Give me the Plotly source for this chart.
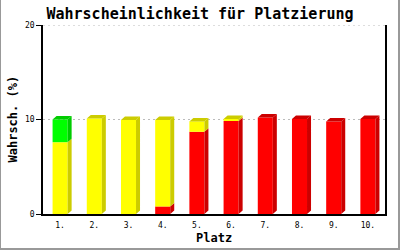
import plotly.graph_objects as go

# ---- data ----
places = ["1.", "2.", "3.", "4.", "5.", "6.", "7.", "8.", "9.", "10."]
red = [0, 0, 0, 0.8, 8.7, 9.85, 10.2, 10.05, 9.8, 10.05]
yellow = [7.6, 10.1, 9.95, 9.15, 1.1, 0.2, 0, 0, 0, 0]
green = [2.4, 0, 0, 0, 0, 0, 0, 0, 0, 0]
y_ticks = [0, 10, 20]

series = [
    ("rot", red, "#FF0000", "#CC0000"),
    ("gelb", yellow, "#FFFF00", "#CCCC00"),
    ("grün", green, "#00FF00", "#00CC00"),
]

xpos = list(range(1, len(places) + 1))
W = 0.44      # bar width (category units)
DX = 0.117    # 3D depth in x (category units)
DY = 0.37     # 3D depth in y (value units)

fig = go.Figure()
base = [0.0] * len(places)
top_color = [None] * len(places)
for name, vals, col, dark in series:
    fig.add_trace(go.Bar(
        x=xpos, y=vals, base=base, width=W,
        marker=dict(color=col, line=dict(width=0)),
        name=name, showlegend=False, hoverinfo="skip",
    ))
    xs, ys = [], []
    for i, v in enumerate(vals):
        if v <= 0:
            continue
        x1 = xpos[i] + W / 2
        y0 = base[i]
        y1 = base[i] + v
        xs += [x1, x1 + DX, x1 + DX, x1, x1, None]
        ys += [y0, y0 + DY, y1 + DY, y1, y0, None]
        top_color[i] = dark
    fig.add_trace(go.Scatter(
        x=xs, y=ys, mode="lines", fill="toself", fillcolor=dark,
        line=dict(width=0, color=dark), showlegend=False, hoverinfo="skip",
    ))
    base = [b + v for b, v in zip(base, vals)]

# top faces
for dark in sorted(set(c for c in top_color if c)):
    xs, ys = [], []
    for i, total in enumerate(base):
        if top_color[i] != dark:
            continue
        x0 = xpos[i] - W / 2
        x1 = xpos[i] + W / 2
        xs += [x0, x0 + DX, x1 + DX, x1, x0, None]
        ys += [total, total + DY, total + DY, total, total, None]
    fig.add_trace(go.Scatter(
        x=xs, y=ys, mode="lines", fill="toself", fillcolor=dark,
        line=dict(width=0, color=dark), showlegend=False, hoverinfo="skip",
    ))

mono = "DejaVu Sans Mono"
fig.update_layout(
    width=400, height=250,
    margin=dict(l=43, r=15, t=25, b=36),
    paper_bgcolor="white", plot_bgcolor="white",
    barmode="overlay",
    title=dict(text="<b>Wahrscheinlichkeit für Platzierung</b>",
               font=dict(family=mono, size=15, color="black"),
               x=0.5, xanchor="center", xref="container",
               y=1 - 14 / 250, yanchor="middle", yref="container"),
    xaxis=dict(range=[0.5, 10.5], tickvals=xpos, ticktext=places,
               showline=True, linecolor="black", linewidth=1.5,
               showgrid=False, zeroline=False, ticks="", ticklabelstandoff=3,
               tickfont=dict(family=mono, size=8, color="black")),
    yaxis=dict(range=[0, 20], tickvals=y_ticks,
               showline=True, linecolor="black", linewidth=1.5, mirror=True,
               showgrid=True, gridcolor="#BBBBBB", griddash="2px,3px", gridwidth=1,
               zeroline=False, ticks="outside", ticklen=5, tickcolor="black",
               tickfont=dict(family=mono, size=8, color="black")),
    annotations=[
        dict(text="<b>Platz</b>", xref="paper", yref="paper", x=0.5, y=-24 / 189,
             xanchor="center", yanchor="middle", showarrow=False,
             font=dict(family=mono, size=12, color="black")),
        dict(text="<b>Wahrsch. (%)</b>", xref="paper", yref="paper", x=-31 / 342, y=0.5,
             xanchor="center", yanchor="middle", showarrow=False, textangle=-90,
             font=dict(family=mono, size=12, color="black")),
    ],
    shapes=[
        dict(type="line", xref="paper", yref="y", x0=0, x1=1, y0=y_ticks[-1], y1=y_ticks[-1],
             layer="below", line=dict(color="#BBBBBB", width=1, dash="2px,3px")),
        dict(type="line", xref="paper", yref="paper", x0=-43 / 342, x1=-43 / 342, y0=-36 / 189, y1=214 / 189,
             line=dict(color="#999999", width=2)),
        dict(type="line", xref="paper", yref="paper", x0=-43 / 342, x1=357 / 342, y0=-35 / 189, y1=-35 / 189,
             line=dict(color="#999999", width=2)),
        dict(type="line", xref="paper", yref="paper", x0=356 / 342, x1=356 / 342, y0=-36 / 189, y1=214 / 189,
             line=dict(color="#999999", width=2)),
    ],
)

fig.write_html("out.html")
